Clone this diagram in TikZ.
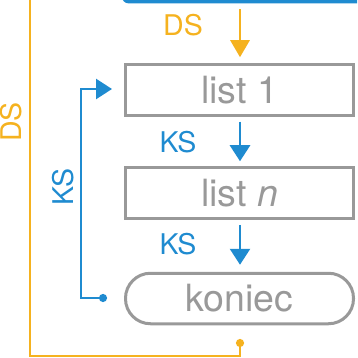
\documentclass[tikz,border=0pt]{standalone}
\usepackage{fontspec}
\setmainfont{TeX Gyre Heros}
\usetikzlibrary{arrows.meta}
\definecolor{cblue}{HTML}{1F8BD0}
\definecolor{corange}{HTML}{F5B21F}
\definecolor{cgray}{HTML}{999999}
\tikzset{
  boxnode/.style={draw=cgray, line width=3pt, minimum width=228pt, minimum height=50.5pt, inner sep=0pt, text=cgray, font=\fontsize{37.5}{40}\selectfont},
  endnode/.style={boxnode, rounded corners=25pt},
  lbl/.style={font=\fontsize{28.5}{32}\selectfont, inner sep=0pt},
  bluearr/.style={draw=cblue, line width=2.6pt, -{Triangle[length=16pt,width=20pt]}},
  orangearr/.style={draw=corange, line width=2.8pt, -{Triangle[length=17pt,width=19pt]}},
  bluedot/.style={draw=cblue, line width=2.6pt, {Circle[length=8pt]}-{Triangle[length=16pt,width=20pt]}},
  orangedot/.style={draw=corange, line width=2.8pt, {Circle[length=8pt]}-}
}
\begin{document}
\begin{tikzpicture}[x=1pt, y=-1pt]
\useasboundingbox (0,0) rectangle (357,358);
\clip (0,0) rectangle (357,358);
% top blue box (partially visible)
\node[fill=cblue, rounded corners=6pt, minimum width=250pt, minimum height=40pt, inner sep=0pt, anchor=south west] (top) at (122,3.5) {};
\coordinate (topout) at (240,3.5);
\node[boxnode] (l1) at (239.5,90) {list 1};
\node[boxnode] (ln) at (239.5,193) {list \textit{n}};
\node[endnode] (kon) at (239.5,298.5) {koniec};
% arrows
\draw[orangearr, shorten <=6pt, shorten >=6pt] (topout) -- (l1.north -| topout);
\node[lbl, text=corange] (ds1) at (183,25) {DS};
\draw[bluearr, shorten <=5pt, shorten >=5pt] (l1.south -| topout) -- (ln.north -| topout);
\node[lbl, text=cblue] (ks1) at (178,142) {KS};
\draw[bluearr, shorten <=5pt, shorten >=7pt] (ln.south -| topout) -- (kon.north -| topout);
\node[lbl, text=cblue] (ks2) at (178,244) {KS};
% blue loop
\coordinate (bstart) at (107,298);
\coordinate (bend) at (112,89);
\draw[bluedot] (bstart) -- (81,298) -- (81,89) -- (bend);
\node[lbl, text=cblue, rotate=90] (ks3) at (63.5,187) {KS};
% orange loop
\coordinate (ostart) at (240,339);
\coordinate (oend) at (30,-5);
\draw[orangedot] (ostart) -- (240,356) -- (30,356) -- (oend);
\node[lbl, text=corange, rotate=90] (ds2) at (11,122) {DS};
\end{tikzpicture}
\end{document}
